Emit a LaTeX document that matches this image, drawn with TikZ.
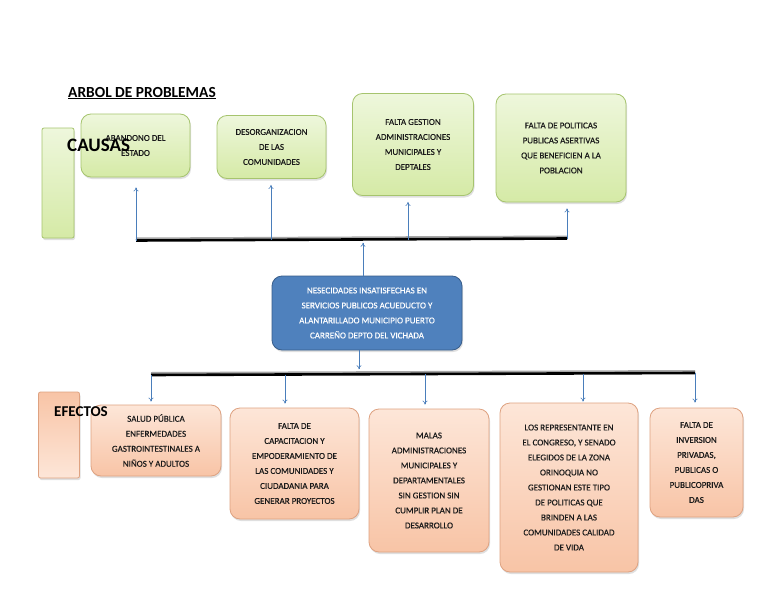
\documentclass[tikz,border=0pt]{standalone}
\usepackage{fontspec}
\setmainfont{Carlito}
\newfontfamily\boxfont[FakeBold=0.3]{Carlito}
\usetikzlibrary{shadows,arrows.meta}
\definecolor{gfillT}{HTML}{EEF7DC}
\definecolor{gfillB}{HTML}{D5EAA6}
\definecolor{gdraw}{HTML}{A6C46E}
\definecolor{sfillT}{HTML}{FDE6D8}
\definecolor{sfillB}{HTML}{F8C4A6}
\definecolor{sdraw}{HTML}{DEA281}
\definecolor{bfill}{HTML}{4F81BD}
\definecolor{bdraw}{HTML}{385D8A}
\definecolor{arr}{HTML}{4A7EBB}
\definecolor{txt}{HTML}{1A1A1A}
\tikzset{
  boxbase/.style={rectangle, rounded corners=10pt, line width=0.8pt, inner sep=0pt, align=center,
     font=\boxfont\fontsize{9}{15}\selectfont, text=txt,
     drop shadow={shadow xshift=1pt, shadow yshift=-2pt, opacity=0.25}},
  causebox/.style={boxbase, draw=gdraw, top color=gfillT, bottom color=gfillB},
  effectbox/.style={boxbase, draw=sdraw, top color=sfillT, bottom color=sfillB},
  corebox/.style={boxbase, draw=bdraw, fill=bfill, text=white},
  sidebar/.style={rectangle, rounded corners=2pt, line width=0.8pt, inner sep=0pt,
     drop shadow={shadow xshift=1pt, shadow yshift=-2pt, opacity=0.25}},
  bar/.style={line width=2.6pt, black},
  barshadow/.style={line width=2pt, black!35},
  conn/.style={arr, line width=0.6pt, -{To[length=4pt,width=5pt]}},
  heading/.style={text=black, inner sep=0pt},
}
\begin{document}
\begin{tikzpicture}[x=1pt,y=-1pt]
\useasboundingbox (0,0) rectangle (768,594);
\fill[white] (0,0) rectangle (768,594);

% title
\node[heading, font=\fontsize{15.4}{17}\selectfont\bfseries, anchor=base west] (title) at (68,97) {\bfseries\underline{ARBOL DE PROBLEMAS}};

% side bars
\node[sidebar, draw=gdraw, top color=gfillT, bottom color=gfillB, minimum width=32pt, minimum height=110pt] (causebar) at (58,183) {};
\node[sidebar, draw=sdraw, top color=sfillB, bottom color=sfillT, minimum width=41pt, minimum height=86pt] (effbar) at (59,435) {};

% cause boxes
\node[causebox, minimum width=109pt, minimum height=63pt] (c1) at (135.5,145.5) {ABANDONO DEL\\ESTADO};
\node[causebox, minimum width=109pt, minimum height=63pt] (c2) at (271.5,147) {DESORGANIZACION\\DE LAS\\COMUNIDADES};
\node[causebox, minimum width=121pt, minimum height=102pt] (c3) at (413,144.5) {FALTA GESTION\\ADMINISTRACIONES\\MUNICIPALES Y\\DEPTALES};
\node[causebox, minimum width=130pt, minimum height=108pt] (c4) at (561,148) {FALTA DE POLITICAS\\PUBLICAS ASERTIVAS\\QUE BENEFICIEN A LA\\POBLACION};

\node[heading, font=\fontsize{19}{21}\selectfont\bfseries, anchor=west] (causas) at (67,145) {\bfseries CAUSAS};

% core problem
\node[corebox, minimum width=190pt, minimum height=74pt] (core) at (367,313) {NESECIDADES INSATISFECHAS EN\\SERVICIOS PUBLICOS ACUEDUCTO Y\\ALANTARILLADO MUNICIPIO PUERTO\\CARREÑO DEPTO DEL VICHADA};

% effect boxes
\node[effectbox, minimum width=130pt, minimum height=71pt] (e1) at (156,440.5) {SALUD PÚBLICA\\ENFERMEDADES\\GASTROINTESTINALES A\\NIÑOS Y ADULTOS};
\node[effectbox, minimum width=129pt, minimum height=111pt] (e2) at (294.5,463.5) {FALTA DE\\CAPACITACION Y\\EMPODERAMIENTO DE\\LAS COMUNIDADES Y\\CIUDADANIA PARA\\GENERAR PROYECTOS};
\node[effectbox, minimum width=120pt, minimum height=143pt] (e3) at (429,480.5) {MALAS\\ADMINISTRACIONES\\MUNICIPALES Y\\DEPARTAMENTALES\\SIN GESTION SIN\\CUMPLIR PLAN DE\\DESARROLLO};
\node[effectbox, minimum width=138pt, minimum height=169pt] (e4) at (569,487.5) {LOS REPRESENTANTE EN\\EL CONGRESO, Y SENADO\\ELEGIDOS DE LA ZONA\\ORINOQUIA NO\\GESTIONAN ESTE TIPO\\DE POLITICAS QUE\\BRINDEN A LAS\\COMUNIDADES CALIDAD\\DE VIDA};
\node[effectbox, minimum width=93pt, minimum height=109pt] (e5) at (696.5,462.5) {FALTA DE\\INVERSION\\PRIVADAS,\\PUBLICAS O\\PUBLICOPRIVA\\DAS};

\node[heading, font=\fontsize{15}{17}\selectfont\bfseries, anchor=west] (efectos) at (54,412) {\bfseries EFECTOS};

% cause bar
\coordinate (cb1) at (136,240.5);
\coordinate (cb2) at (271,240);
\coordinate (cb3) at (408,239.5);
\coordinate (cb4) at (567,238.5);
\coordinate (cbm) at (363,239.8);
\draw[barshadow] ([yshift=2pt]cb1) -- ([yshift=2pt]cb4);
\draw[bar] (cb1) -- (cb4);
\draw[conn, shorten >=10pt] (cb1) -- (cb1 |- c1.south);
\draw[conn, shorten >=6pt] (cb2) -- (cb2 |- c2.south);
\draw[conn, shorten >=6pt] (cb3) -- (cb3 |- c3.south);
\draw[conn, shorten >=6pt] (cb4) -- (cb4 |- c4.south);
\draw[conn, shorten >=3pt] (cbm |- core.north) -- (cbm);

% effect bar
\coordinate (eb1) at (151,375);
\coordinate (eb2) at (285,374.5);
\coordinate (eb3) at (425,374);
\coordinate (eb4) at (583,373.5);
\coordinate (eb5) at (695,373);
\coordinate (ebm) at (359,374.2);
\draw[barshadow] ([yshift=2pt]eb1) -- ([yshift=2pt]eb5);
\draw[bar] (eb1) -- (eb5);
\draw[conn, shorten >=5pt] (ebm |- core.south) -- (ebm);
\draw[conn, shorten >=3pt] (eb1) -- (eb1 |- e1.north);
\draw[conn, shorten >=4pt] (eb2) -- (eb2 |- e2.north);
\draw[conn, shorten >=4pt] (eb3) -- (eb3 |- e3.north);
\draw[conn, shorten >=1pt] (eb4) -- (eb4 |- e4.north);
\draw[conn, shorten >=5pt] (eb5) -- (eb5 |- e5.north);
\end{tikzpicture}
\end{document}
